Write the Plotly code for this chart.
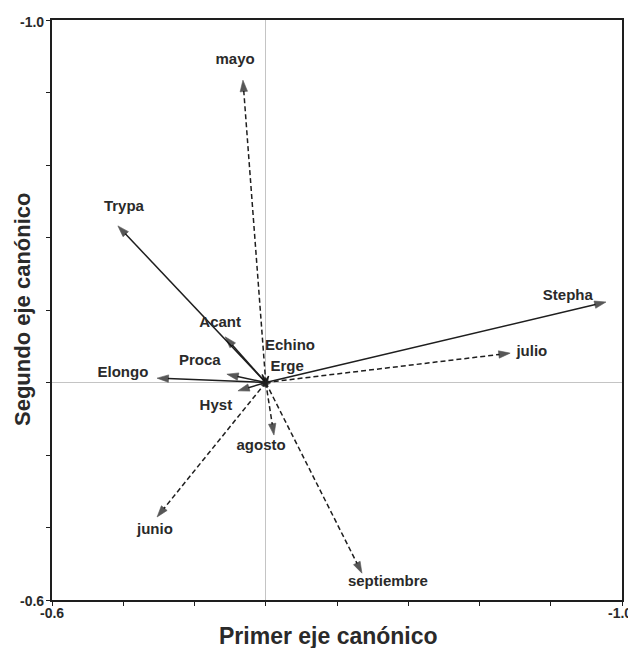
import plotly.graph_objects as go

# Species vectors (solid)
species = ["Trypa", "Acant", "Echino", "Erge", "Proca", "Elongo", "Hyst", "Stepha"]
species_x = [-0.415, -0.114, -0.010, 0.008, -0.109, -0.305, -0.078, 0.955]
species_y = [0.432, 0.126, 0.022, 0.018, 0.023, 0.012, -0.023, 0.222]
species_lx = [-0.398, -0.128, 0.068, 0.060, -0.185, -0.401, -0.140, 0.848]
species_ly = [0.484, 0.164, 0.101, 0.043, 0.059, 0.026, -0.065, 0.239]

# Month vectors (dashed)
months = ["mayo", "julio", "agosto", "junio", "septiembre"]
months_x = [-0.064, 0.686, 0.023, -0.305, 0.270]
months_y = [0.834, 0.081, -0.145, -0.371, -0.526]
months_lx = [-0.086, 0.747, -0.013, -0.311, 0.343]
months_ly = [0.890, 0.084, -0.175, -0.407, -0.550]

tick_vals = [-0.6, -0.4, -0.2, 0.0, 0.2, 0.4, 0.6, 0.8, 1.0]
end_tick_text = ["-0.6", "-1.0"]  # labels printed at the axis ends

LINE = "#1e1e1e"
HEAD = "#111111"
TXT = "#2a2a2a"
FONT = "Liberation Sans"

# page has an 8px body margin; figure sized/offset to compensate
W, H = 628, 640
ML, MR, MT, MB = 44, 14, 12, 48
plot_w = W - ML - MR
plot_h = H - MT - MB

def px(page_x):
    return (page_x - 8 - ML) / plot_w

def py(page_y):
    return (H - MB - (page_y - 8)) / plot_h

fig = go.Figure()

def add_vec(x, y, dash):
    fig.add_trace(go.Scatter(
        x=[0, x], y=[0, y], mode="lines+markers",
        line=dict(color=LINE, width=1.5, dash=dash),
        marker=dict(symbol="arrow", size=[0, 12], angleref="previous",
                    color=HEAD, line=dict(width=0.6, color=HEAD)),
        hoverinfo="skip", showlegend=False))

for sx, sy in zip(species_x, species_y):
    add_vec(sx, sy, "solid")
for mx, my in zip(months_x, months_y):
    add_vec(mx, my, "5px,3px")

fig.add_trace(go.Scatter(
    x=species_lx + months_lx, y=species_ly + months_ly,
    mode="text", text=species + months,
    textfont=dict(family=FONT, size=15, color=TXT, weight="bold"),
    hoverinfo="skip", showlegend=False))

axis_common = dict(
    range=[-0.6, 1.0], tickvals=tick_vals, showgrid=False,
    showticklabels=False,
    zeroline=True, zerolinecolor="#c4c4c4", zerolinewidth=1,
    showline=True, linecolor=LINE, linewidth=2, mirror=True,
    ticks="outside", ticklen=4, tickwidth=1, tickcolor=LINE,
    fixedrange=True, automargin=False,
)

tick_font = dict(family=FONT, size=14, color=TXT, weight="bold")
title_font = dict(family=FONT, size=23, color=TXT, weight="bold")

annotations = [
    dict(text=end_tick_text[1], x=px(46), y=py(22), xanchor="right", yanchor="middle"),
    dict(text=end_tick_text[0], x=px(46), y=py(601), xanchor="right", yanchor="middle"),
    dict(text=end_tick_text[0], x=px(52), y=py(613), xanchor="center", yanchor="middle"),
    dict(text=end_tick_text[1], x=px(634), y=py(613), xanchor="right", yanchor="middle"),
]
for a in annotations:
    a.update(xref="paper", yref="paper", showarrow=False, font=tick_font)

annotations += [
    dict(text="Primer eje canónico", x=px(328), y=py(636),
         xref="paper", yref="paper", xanchor="center", yanchor="middle",
         showarrow=False, font=title_font),
    dict(text="Segundo eje canónico", x=px(22), y=py(310),
         xref="paper", yref="paper", xanchor="center", yanchor="middle",
         showarrow=False, textangle=-90, font=dict(title_font, size=22)),
]

fig.update_layout(
    width=W, height=H,
    margin=dict(l=ML, r=MR, t=MT, b=MB),
    plot_bgcolor="white", paper_bgcolor="white",
    xaxis=axis_common,
    yaxis=axis_common,
    annotations=annotations,
)

fig.write_html("out.html")
